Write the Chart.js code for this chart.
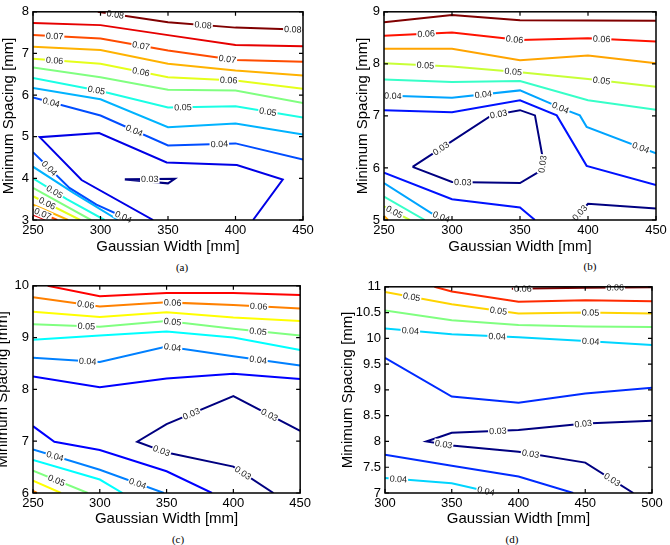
<!DOCTYPE html>
<html>
<head>
<meta charset="utf-8">
<script src="https://cdn.jsdelivr.net/npm/chart.js@4.4.1/dist/chart.umd.min.js"></script>
<style>
  body { margin: 0; width: 670px; height: 545px; overflow: hidden; position: relative; background: #fff; }
  .panel { position: absolute; }
  .cap { position: absolute; font: 11px "Liberation Serif", "Times New Roman", serif; color: #000; transform: translate(-50%, -50%); }
</style>
</head>
<body>
<div class="panel" style="left:0px;top:0px"><canvas id="chartA" width="320" height="256"></canvas></div>
<div class="panel" style="left:354px;top:0px"><canvas id="chartB" width="316" height="256"></canvas></div>
<div class="panel" style="left:-6px;top:274px"><canvas id="chartC" width="320" height="254"></canvas></div>
<div class="panel" style="left:339px;top:275px"><canvas id="chartD" width="331" height="253"></canvas></div>
<div class="cap" style="left:182px;top:267px">(a)</div>
<div class="cap" style="left:590px;top:266px">(b)</div>
<div class="cap" style="left:178px;top:539px">(c)</div>
<div class="cap" style="left:512px;top:539px">(d)</div>
<script>
// Panel (a) - contour level of each polyline, polylines as [width, spacing]
const levelsA = [0.08, 0.075, 0.07, 0.065, 0.06, 0.055, 0.05, 0.045, 0.04, 0.035, 0.03,
                 0.04, 0.045, 0.05, 0.055, 0.06, 0.065, 0.07, 0.075];
const linesA = [
  [[298, 8.0], [350, 7.75], [400, 7.62], [450, 7.57]],
  [[250, 7.73], [300, 7.68], [350, 7.44], [400, 7.20], [450, 7.17]],
  [[250, 7.44], [300, 7.36], [350, 7.07], [400, 6.84], [450, 6.80]],
  [[250, 7.16], [300, 7.08], [350, 6.75], [400, 6.59], [450, 6.47]],
  [[250, 6.87], [300, 6.75], [350, 6.43], [400, 6.35], [450, 6.15]],
  [[250, 6.66], [300, 6.43], [350, 6.13], [400, 6.11], [450, 5.81]],
  [[250, 6.41], [300, 6.10], [350, 5.70], [400, 5.73], [450, 5.46]],
  [[250, 6.17], [300, 5.90], [350, 5.23], [400, 5.32], [450, 5.05]],
  [[250, 5.94], [300, 5.51], [350, 4.79], [400, 4.84], [450, 4.45]],
  [[339, 3.0], [286, 3.96], [255, 4.99], [299, 5.09], [349, 4.38], [401, 4.32], [435, 3.97], [413, 3.0]],
  [[318, 3.98], [355, 3.99], [350, 3.88], [318, 3.97]],
  [[250, 4.63], [277, 3.77], [297, 3.37], [322, 3.0]],
  [[250, 4.28], [280, 3.65], [313, 3.0]],
  [[250, 4.0], [275, 3.5], [303, 3.0]],
  [[250, 3.77], [293, 3.0]],
  [[250, 3.57], [285, 3.0]],
  [[250, 3.37], [276, 3.0]],
  [[250, 3.25], [268, 3.0]],
  [[250, 3.13], [260, 3.0]]
];
// inline labels: [line index, segment index, position along segment]
const labelsA = [[0, 0, 0.25], [0, 1, 0.52], [0, 2, 0.85],
                 [2, 0, 0.32], [2, 1, 0.6], [2, 2, 0.88],
                 [4, 0, 0.32], [4, 1, 0.6], [4, 2, 0.9],
                 [6, 0, 0.94], [6, 2, 0.22], [6, 3, 0.48],
                 [8, 0, 0.27], [8, 1, 0.5], [8, 2, 0.76],
                 [10, 0, 0.5], [11, 0, 0.45], [11, 2, 0.8],
                 [13, 0, 0.64], [15, 0, 0.3], [17, 0, 0.4]];
const xTicksA = [250, 300, 350, 400, 450];
const yTicksA = [3, 4, 5, 6, 7, 8];

// Panel (b)
const levelsB = [0.065, 0.06, 0.055, 0.05, 0.045, 0.04, 0.035, 0.035, 0.03, 0.03,
                 0.04, 0.045, 0.05, 0.055];
const linesB = [
  [[250, 8.80], [300, 8.94], [350, 8.84], [450, 8.83]],
  [[250, 8.54], [300, 8.60], [350, 8.46], [400, 8.49], [450, 8.43]],
  [[250, 8.29], [300, 8.29], [350, 8.07], [400, 8.16], [450, 8.01]],
  [[250, 8.01], [300, 7.95], [350, 7.84], [400, 7.71], [450, 7.56]],
  [[250, 7.70], [300, 7.65], [350, 7.67], [400, 7.30], [450, 7.12]],
  [[250, 7.39], [300, 7.35], [350, 7.49], [383, 7.12], [394, 7.01], [399, 6.79], [450, 6.28]],
  [[250, 7.11], [300, 7.07], [350, 7.30], [377, 7.01], [399, 6.04], [450, 5.67]],
  [[250, 5.91], [300, 5.40], [350, 5.24], [361, 5.0]],
  [[271, 6.02], [329, 7.01], [350, 7.11], [361, 7.01], [367, 6.15], [366, 5.96], [350, 5.71], [300, 5.73], [271, 6.02]],
  [[389, 5.0], [400, 5.31], [450, 5.22]],
  [[250, 5.71], [285, 5.13], [298, 5.0]],
  [[250, 5.45], [280, 5.0]],
  [[250, 5.26], [269, 5.0]],
  [[250, 5.08], [253, 5.0]]
];
const labelsB = [[1, 0, 0.62], [1, 1, 0.92], [1, 3, 0.2],
                 [3, 0, 0.61], [3, 1, 0.9], [3, 3, 0.2],
                 [5, 0, 0.13], [5, 1, 0.46], [5, 2, 0.9], [5, 5, 0.78],
                 [8, 0, 0.36], [8, 1, 0.25], [8, 4, 0.4], [8, 6, 0.84],
                 [9, 0, 0.45], [10, 1, 0.55], [12, 0, 0.4]];
const xTicksB = [250, 300, 350, 400, 450];
const yTicksB = [5, 6, 7, 8, 9];

// Panel (c)
const levelsC = [0.065, 0.06, 0.055, 0.05, 0.045, 0.04, 0.035, 0.03,
                 0.035, 0.04, 0.045, 0.05, 0.055, 0.06];
const linesC = [
  [[261, 10.0], [300, 9.80], [350, 9.86], [400, 9.86], [450, 9.82]],
  [[250, 9.78], [300, 9.60], [350, 9.68], [400, 9.63], [450, 9.56]],
  [[250, 9.50], [300, 9.40], [350, 9.49], [400, 9.39], [450, 9.32]],
  [[250, 9.26], [300, 9.21], [350, 9.32], [400, 9.17], [450, 9.04]],
  [[250, 8.96], [300, 9.04], [350, 9.12], [400, 9.0], [450, 8.76]],
  [[250, 8.61], [300, 8.53], [350, 8.83], [400, 8.64], [450, 8.46]],
  [[250, 8.25], [300, 8.04], [350, 8.21], [400, 8.30], [450, 8.20]],
  [[450, 7.20], [400, 7.87], [350, 7.33], [328, 6.99], [350, 6.78], [400, 6.51], [430, 6.0]],
  [[250, 7.29], [266, 6.99], [300, 6.83], [350, 6.42], [384, 6.0]],
  [[250, 6.84], [300, 6.45], [348, 6.0]],
  [[250, 6.64], [300, 6.26], [317, 6.0]],
  [[250, 6.43], [291, 6.0]],
  [[250, 6.24], [271, 6.0]],
  [[250, 6.04], [253, 6.0]]
];
const labelsC = [[1, 0, 0.79], [1, 2, 0.09], [1, 3, 0.38],
                 [3, 0, 0.8], [3, 2, 0.09], [3, 3, 0.37],
                 [5, 0, 0.82], [5, 2, 0.09], [5, 3, 0.37],
                 [7, 0, 0.46], [7, 1, 0.63], [7, 3, 0.83], [7, 5, 0.24],
                 [9, 0, 0.33], [9, 1, 0.59], [11, 0, 0.43]];
const xTicksC = [250, 300, 350, 400, 450];
const yTicksC = [6, 7, 8, 9, 10];

// Panel (d)
const levelsD = [0.06, 0.055, 0.05, 0.045, 0.04, 0.035, 0.03, 0.035, 0.04];
const linesD = [
  [[395, 10.96], [450, 10.98], [500, 10.99]],
  [[337, 11.0], [350, 10.91], [400, 10.71], [450, 10.74], [500, 10.72]],
  [[300, 10.90], [350, 10.66], [400, 10.48], [450, 10.50], [500, 10.48]],
  [[300, 10.54], [350, 10.35], [400, 10.26], [450, 10.23], [500, 10.22]],
  [[300, 10.19], [350, 10.08], [400, 10.02], [450, 9.95], [500, 9.87]],
  [[300, 9.62], [350, 8.87], [400, 8.75], [450, 8.93], [500, 9.04]],
  [[500, 8.40], [450, 8.35], [400, 8.22], [350, 8.17], [331, 8.0], [350, 7.92], [400, 7.80], [450, 7.59], [486, 7.0]],
  [[300, 7.74], [350, 7.53], [400, 7.32], [441, 7.0]],
  [[300, 7.29], [350, 7.19], [382, 7.0]]
];
const labelsD = [[0, 0, 0.15], [0, 1, 0.45],
                 [2, 0, 0.4], [2, 1, 0.7], [2, 3, 0.08],
                 [4, 0, 0.38], [4, 1, 0.68], [4, 3, 0.08],
                 [6, 1, 0.03], [6, 2, 0.31], [6, 4, 0.68], [6, 6, 0.18], [6, 7, 0.56],
                 [8, 0, 0.2], [8, 1, 0.8]];
const xTicksD = [300, 350, 400, 450, 500];
const yTicksD = [7, 7.5, 8, 8.5, 9, 9.5, 10, 10.5, 11];

const FONT = '"Liberation Sans", Arial, Helvetica, sans-serif';

// jet colormap, t in [0, 1]
function jet(t) {
  const c = v => Math.round(255 * Math.max(0, Math.min(1, v)));
  const r = Math.min(4 * t - 1.5, -4 * t + 4.5);
  const g = Math.min(4 * t - 0.5, -4 * t + 3.5);
  const b = Math.min(4 * t + 0.5, -4 * t + 2.5);
  return `rgb(${c(r)},${c(g)},${c(b)})`;
}

// box with inward ticks on all four sides, plus inline contour labels
const contourFrame = {
  id: 'contourFrame',
  afterDatasetsDraw(chart, args, opts) {
    const { ctx, chartArea: a, scales: { x, y } } = chart;
    ctx.save();
    ctx.font = '9px ' + FONT;
    ctx.textAlign = 'center';
    ctx.textBaseline = 'middle';
    (opts.labels || []).forEach(([li, seg, t]) => {
      const ds = chart.data.datasets[li];
      const p0 = ds.data[seg], p1 = ds.data[seg + 1];
      const x0 = x.getPixelForValue(p0.x), y0 = y.getPixelForValue(p0.y);
      const x1 = x.getPixelForValue(p1.x), y1 = y.getPixelForValue(p1.y);
      let ang = Math.atan2(y1 - y0, x1 - x0);
      if (ang > Math.PI / 2) ang -= Math.PI;
      if (ang < -Math.PI / 2) ang += Math.PI;
      ctx.save();
      ctx.translate(x0 + (x1 - x0) * t, y0 + (y1 - y0) * t);
      ctx.rotate(ang);
      const w = ctx.measureText(ds.label).width;
      ctx.fillStyle = '#fff';
      ctx.fillRect(-w / 2 - 1, -4.5, w + 2, 9);
      ctx.fillStyle = '#222';
      ctx.fillText(ds.label, 0, 0.5);
      ctx.restore();
    });
    ctx.strokeStyle = '#000';
    ctx.lineWidth = 1.5;
    ctx.strokeRect(a.left, a.top, a.right - a.left, a.bottom - a.top);
    ctx.lineWidth = 1.2;
    ctx.beginPath();
    x.ticks.forEach(tk => {
      const px = x.getPixelForValue(tk.value);
      ctx.moveTo(px, a.bottom); ctx.lineTo(px, a.bottom - 4);
      ctx.moveTo(px, a.top); ctx.lineTo(px, a.top + 4);
    });
    y.ticks.forEach(tk => {
      const py = y.getPixelForValue(tk.value);
      ctx.moveTo(a.left, py); ctx.lineTo(a.left + 4, py);
      ctx.moveTo(a.right, py); ctx.lineTo(a.right - 4, py);
    });
    ctx.stroke();
    ctx.restore();
  }
};

function drawPanel(id, levels, lines, labels, xTicks, yTicks, cmin, cmax, box) {
  const datasets = lines.map((pts, i) => ({
    label: levels[i].toFixed(2),
    data: pts.map(([px, py]) => ({ x: px, y: py })),
    borderColor: jet((levels[i] - cmin) / (cmax - cmin)),
    borderWidth: 2,
    pointRadius: 0,
    showLine: true,
    tension: 0,
    fill: false
  }));
  const tickFont = { family: FONT, size: 13 };
  const titleFont = { family: FONT, size: 15 };
  new Chart(document.getElementById(id), {
    type: 'scatter',
    data: { datasets },
    options: {
      responsive: false,
      animation: false,
      devicePixelRatio: 1,
      layout: { padding: { left: 0, top: box.top, right: box.right, bottom: 0 } },
      plugins: {
        legend: { display: false },
        tooltip: { enabled: false },
        contourFrame: { labels }
      },
      scales: {
        x: {
          type: 'linear',
          min: xTicks[0],
          max: xTicks[xTicks.length - 1],
          grid: { display: false, drawTicks: false },
          border: { display: false },
          afterBuildTicks: s => { s.ticks = xTicks.map(v => ({ value: v })); },
          afterFit: s => { s.height = box.xh; },
          ticks: { font: tickFont, color: '#000', padding: 3, maxRotation: 0, autoSkip: false, callback: v => String(v) },
          title: { display: true, text: 'Gaussian Width [mm]', font: titleFont, color: '#000', padding: 0 }
        },
        y: {
          type: 'linear',
          min: yTicks[0],
          max: yTicks[yTicks.length - 1],
          grid: { display: false, drawTicks: false },
          border: { display: false },
          afterBuildTicks: s => { s.ticks = yTicks.map(v => ({ value: v })); },
          afterFit: s => { s.width = box.yw; },
          ticks: { font: tickFont, color: '#000', padding: 4, autoSkip: false, callback: v => String(v) },
          title: { display: true, text: 'Minimum Spacing [mm]', font: titleFont, color: '#000', padding: 0 }
        }
      }
    },
    plugins: [contourFrame]
  });
}

drawPanel('chartA', levelsA, linesA, labelsA, xTicksA, yTicksA, 0.03, 0.08, { top: 11, right: 17, yw: 33, xh: 36 });
drawPanel('chartB', levelsB, linesB, labelsB, xTicksB, yTicksB, 0.03, 0.065, { top: 11, right: 14, yw: 30, xh: 36 });
drawPanel('chartC', levelsC, linesC, labelsC, xTicksC, yTicksC, 0.03, 0.07, { top: 11, right: 11, yw: 39, xh: 35 });
drawPanel('chartD', levelsD, linesD, labelsD, xTicksD, yTicksD, 0.03, 0.06, { top: 11, right: 18, yw: 46, xh: 35 });
</script>
</body>
</html>
